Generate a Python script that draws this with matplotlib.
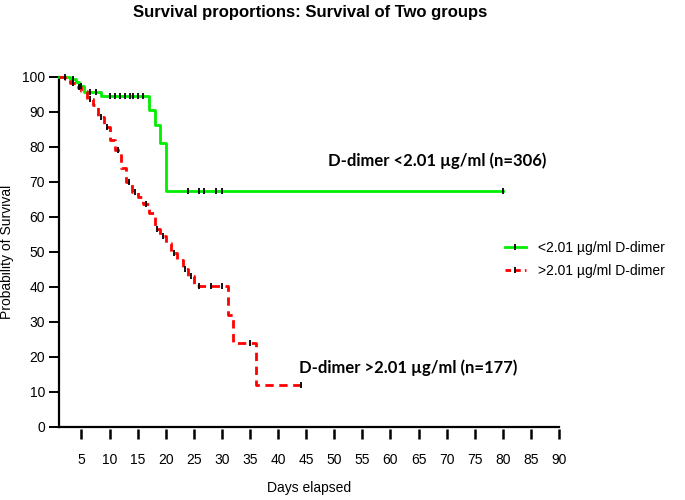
import matplotlib
matplotlib.use("Agg")
import numpy as np
import matplotlib.pyplot as plt
from matplotlib.lines import Line2D

# group 1: D-dimer < 2.01 (n=306), step times and survival after each step
low_days = [1, 3, 4, 4.5, 5.5, 8.5, 17, 18, 19, 20, 80]
low_surv = [100, 99.3, 98.4, 97.4, 95.7, 94.6, 90.4, 86.2, 81.0, 67.4, 67.4]
low_cens = [2, 3.5, 5, 6.5, 7.5, 10, 10.9, 11.8, 12.7, 13.6, 14.2, 15.1, 16,
            24, 25.9, 26.8, 29, 30, 80]

# group 2: D-dimer > 2.01 (n=177)
high_days = [1, 2, 3, 4, 5, 6, 7, 8, 9, 10, 11, 12, 13, 14, 15, 16, 17, 18,
             19, 20, 21, 22, 23, 24, 25, 31, 32, 36, 44]
high_surv = [100, 99.4, 98.3, 97.2, 96.0, 93.5, 92.0, 88.5, 85.5, 82.0, 79.0,
             74.0, 70.0, 67.0, 65.5, 63.5, 61.0, 56.5, 54.5, 52.5, 49.5, 47.5,
             45.0, 43.0, 40.3, 32.0, 24.0, 12.0, 12.0]
high_cens = [3.5, 4.5, 6.5, 8.5, 9.5, 11.5, 13.5, 14.5, 16.5, 18.5, 19.5,
             21.5, 23.5, 24.5, 26, 28, 30, 35, 44]

x_ticks = list(range(5, 95, 5))
y_ticks = list(range(0, 110, 10))

label_low = "<2.01 \u00b5g/ml D-dimer"
label_high = ">2.01 \u00b5g/ml D-dimer"
note_low = "D-dimer <2.01 \u00b5g/ml (n=306)"
note_high = "D-dimer >2.01 \u00b5g/ml (n=177)"

GREEN = "#00ee00"
RED = "#ff0000"

plt.rcParams['font.family'] = ['Liberation Sans', 'DejaVu Sans']

fig = plt.figure(figsize=(6.85, 5.0), dpi=100)
ax = fig.add_axes([59 / 685, 1 - 426.7 / 500, 500 / 685, 350 / 500])


def surv_at(days, surv, t):
    i = np.searchsorted(days, t, side='right') - 1
    return surv[i]


ax.step(low_days, low_surv, where='post', color=GREEN, lw=2, clip_on=False, zorder=3)
ax.step(high_days, high_surv, where='post', color=RED, lw=2, dashes=(3, 2),
        clip_on=False, zorder=3)

ax.plot(low_cens, [surv_at(low_days, low_surv, t) for t in low_cens], ls='none',
        marker='|', color='k', ms=5, mew=1.3, clip_on=False, zorder=4)
ax.plot(high_cens, [surv_at(high_days, high_surv, t) for t in high_cens], ls='none',
        marker='|', color='k', ms=5, mew=1.3, clip_on=False, zorder=4)

ax.set_xlim(1, 90)
ax.set_ylim(0, 100)
ax.set_xticks(x_ticks)
ax.set_yticks(y_ticks)

for s in ['top', 'right']:
    ax.spines[s].set_visible(False)
ax.spines['left'].set_linewidth(1.6)
ax.spines['bottom'].set_visible(False)
ax.spines['bottom'].set_position(('outward', 2))
ax.axhline(0, color='k', lw=1.6, clip_on=False, zorder=2)

ax.tick_params(axis='y', direction='out', length=7, width=1.4, pad=3, labelsize=10)
ax.tick_params(axis='x', direction='out', length=7, width=1.8, pad=10, labelsize=10)

ax.set_xlabel("Days elapsed", fontsize=10, labelpad=10)
ax.set_ylabel("Probability of Survival", fontsize=10, labelpad=6)

fig.text(0.4526, 0.974, "Survival proportions: Survival of Two groups",
         ha='center', va='center', fontsize=12, fontweight='bold')

ax.text(48.8, 76, note_low, fontsize=12, fontweight='bold', family=['Lato', 'DejaVu Sans'],
        va='center', ha='left')
ax.text(43.7, 16.8, note_high, fontsize=12, fontweight='bold', family=['Lato', 'DejaVu Sans'],
        va='center', ha='left')

handles = [
    Line2D([], [], color=GREEN, lw=2, marker='|', mec='k', ms=5, mew=1.3),
    Line2D([], [], color=RED, lw=2, dashes=(2, 1.5), marker='|', mec='k', ms=5, mew=1.3),
]
fig.legend(handles, [label_low, label_high], loc='center left',
           bbox_to_anchor=(505 / 685, 1 - 259.2 / 500), frameon=False,
           fontsize=10, handlelength=1.5, handletextpad=0.9, labelspacing=0.65,
           borderpad=0, borderaxespad=0, numpoints=1)

fig.savefig("out.png", dpi=100)
